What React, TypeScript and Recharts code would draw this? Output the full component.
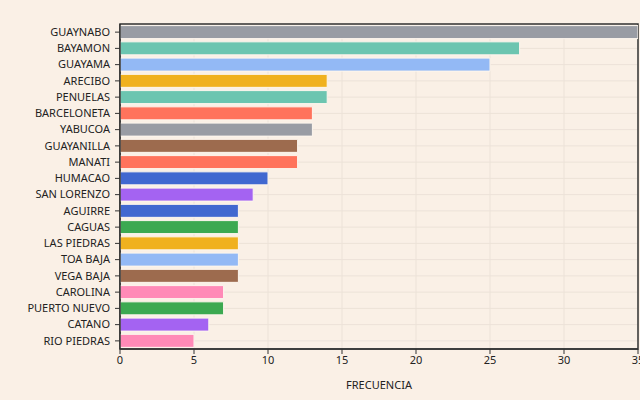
import React from 'react';
import { BarChart, Bar, XAxis, YAxis, CartesianGrid, Cell, ReferenceArea } from 'recharts';

const municipios = [
  'GUAYNABO', 'BAYAMON', 'GUAYAMA', 'ARECIBO', 'PENUELAS', 'BARCELONETA', 'YABUCOA',
  'GUAYANILLA', 'MANATI', 'HUMACAO', 'SAN LORENZO', 'AGUIRRE', 'CAGUAS', 'LAS PIEDRAS',
  'TOA BAJA', 'VEGA BAJA', 'CAROLINA', 'PUERTO NUEVO', 'CATANO', 'RIO PIEDRAS',
];
const frecuencia = [35, 27, 25, 14, 14, 13, 13, 12, 12, 10, 9, 8, 8, 8, 8, 8, 7, 7, 6, 5];
const xTicks = [0, 5, 10, 15, 20, 25, 30, 35];

const barColors = [
  '#999ca4', '#6cc5b0', '#93b9f5', '#f0b11e', '#6cc5b0', '#ff735c', '#999ca4',
  '#9d6b4e', '#ff735c', '#4168d0', '#a463f2', '#4168d0', '#3ca951', '#f0b11e',
  '#93b9f5', '#9d6b4e', '#ff8ab7', '#3ca951', '#a463f2', '#ff8ab7',
];

const data = municipios.map((name, i) => ({ name, value: frecuencia[i] }));

const font = '"Noto Sans", sans-serif';
const tickStyle = { fontSize: 11, fill: '#222', fontFamily: font };

const CategoryTick = (props: any) => {
  const { x, y, payload } = props;
  return (
    <text x={x} y={y} dy="0.35em" textAnchor="end" fontSize={11} fill="#222" fontFamily={font}>
      {payload.value}
    </text>
  );
};

export default function App() {
  return (
    <div
      style={{
        position: 'absolute',
        left: 0,
        top: 0,
        width: 640,
        height: 400,
        overflow: 'hidden',
        background: '#faf0e6',
      }}
    >
      <BarChart
        width={660}
        height={400}
        data={data}
        layout="vertical"
        margin={{ top: 24, right: 22, bottom: 0, left: 0 }}
        barCategoryGap={1.6}
      >
        <CartesianGrid stroke="#ece2d8" strokeWidth={1} />
        <XAxis
          type="number"
          domain={[0, 35]}
          ticks={xTicks}
          allowDataOverflow
          height={51}
          tick={tickStyle}
          tickSize={5}
          tickMargin={2}
          tickLine={{ stroke: '#333' }}
          axisLine={{ stroke: '#333', strokeWidth: 1.5 }}
          label={{ value: 'FRECUENCIA', position: 'insideBottom', offset: 11, style: tickStyle }}
        />
        <YAxis
          type="category"
          dataKey="name"
          width={120}
          interval={0}
          tick={<CategoryTick />}
          tickSize={5}
          tickMargin={5}
          tickLine={{ stroke: '#333' }}
          axisLine={{ stroke: '#333', strokeWidth: 1.5 }}
        />
        <Bar dataKey="value" isAnimationActive={false} stroke="#fdf6ee" strokeWidth={1}>
          {data.map((d, i) => (
            <Cell key={d.name} fill={barColors[i]} />
          ))}
        </Bar>
        <ReferenceArea x1={0} x2={35} fill="none" stroke="#333" strokeWidth={1.5} ifOverflow="extendDomain" />
      </BarChart>
    </div>
  );
}
